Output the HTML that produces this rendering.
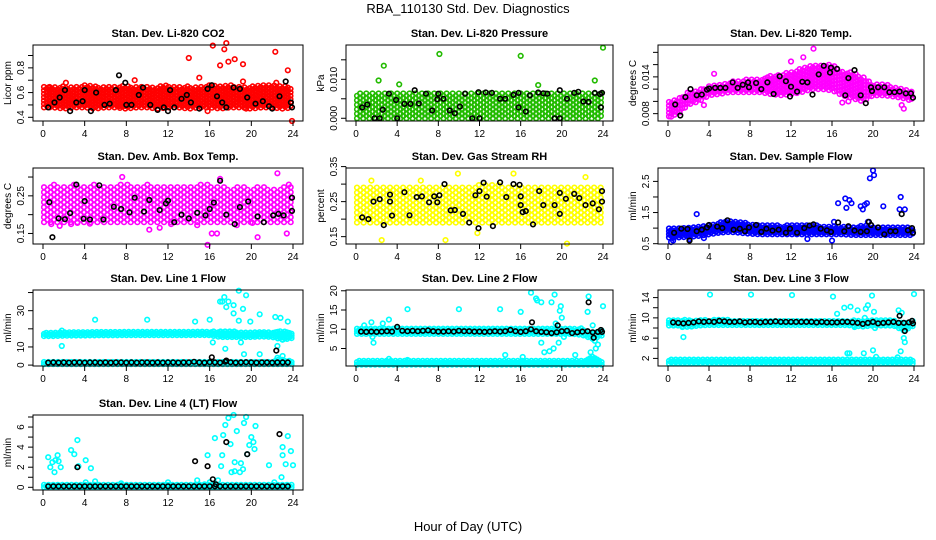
<!DOCTYPE html>
<html><head><meta charset="utf-8"><style>
html,body{margin:0;padding:0;background:#fff}
svg{display:block;font-family:"Liberation Sans",sans-serif}
</style></head><body>
<svg id="chart" width="936" height="540" xmlns="http://www.w3.org/2000/svg">
<text x="468" y="13" text-anchor="middle" font-size="13">RBA_110130  Std. Dev. Diagnostics</text>
<text x="468" y="531" text-anchor="middle" font-size="13">Hour of Day (UTC)</text>
</svg>
<script>
const hoursGrid=[0,1,2,3,4,5,6,7,8,9,10,11,12,13,14,15,16,17,18,19,20,21,22,23,24];
const halfHours=[0.5,1,1.5,2,2.5,3,3.5,4,4.5,5,5.5,6,6.5,7,7.5,8,8.5,9,9.5,10,10.5,11,11.5,12,12.5,13,13.5,14,14.5,15,15.5,16,16.5,17,17.5,18,18.5,19,19.5,20,20.5,21,21.5,22,22.5,23,23.5];
const xTicks=[0,4,8,12,16,20,24];

// P1 CO2
const co2Lo=[0.48,0.48,0.47,0.48,0.48,0.47,0.48,0.48,0.47,0.48,0.48,0.47,0.48,0.48,0.47,0.48,0.48,0.47,0.48,0.48,0.47,0.48,0.48,0.47,0.48];
const co2Hi=[0.66,0.65,0.65,0.65,0.66,0.65,0.65,0.65,0.66,0.65,0.65,0.65,0.66,0.65,0.65,0.65,0.66,0.65,0.66,0.65,0.65,0.66,0.66,0.66,0.65];
const co2OutX=[0.5,0.8,2.2,4.3,5.8,7.3,8,8.8,12.8,14,15,15.8,16.3,17,17.4,17.6,17.8,18.4,19,19.2,19.5,19.2,22.3,22.4,23,23.5,23.9];
const co2OutY=[0.64,0.61,0.68,0.64,0.5,0.49,0.49,0.7,0.52,0.88,0.72,0.45,0.98,0.82,0.95,1.0,0.85,0.87,0.55,0.69,0.47,0.83,0.93,0.68,0.5,0.78,0.37];
const co2BlkX=[0.5,1.1,1.6,2.1,2.6,3.2,3.8,4,4.6,5.1,5.9,6.4,7,7.3,7.9,8,8.5,9.2,9.6,10.3,11,11.6,12,12.2,12.6,13.3,13.8,14.2,15,15.8,16.2,16.7,17.2,17.6,18.3,18.9,19.6,20.4,21.1,21.7,22,22.7,23.3,23.8,23.9];
const co2BlkY=[0.48,0.52,0.56,0.62,0.45,0.52,0.53,0.62,0.45,0.6,0.5,0.51,0.62,0.74,0.68,0.5,0.5,0.58,0.64,0.5,0.46,0.48,0.45,0.62,0.48,0.55,0.58,0.52,0.47,0.63,0.66,0.57,0.52,0.48,0.64,0.63,0.56,0.51,0.53,0.49,0.47,0.57,0.69,0.52,0.48];

// P2 Pressure
const presLo=[0,0,0,0,0,0,0,0,0,0,0,0,0,0,0,0,0,0,0,0,0,0,0,0,0];
const presHi=[0.0068,0.0068,0.0067,0.0068,0.0068,0.0069,0.0068,0.0068,0.0068,0.0068,0.0068,0.0068,0.0069,0.0068,0.0068,0.0068,0.0069,0.0068,0.0068,0.0068,0.0068,0.0068,0.0068,0.0068,0.0068];
const presOutX=[2.2,2.7,4.2,8.1,16,17.7,23.2,24];
const presOutY=[0.0097,0.0135,0.0087,0.0165,0.016,0.0085,0.0097,0.0181];
const presBlkX=[0.6,1.1,1.8,2.3,2.6,3.2,3.9,4,4.7,5.3,5.7,6.1,6.8,7.4,7.9,8,8.5,9.1,9.6,10.1,10.6,11.3,11.9,12,12.6,13.2,14,14.5,15.3,15.8,15.8,16.5,16.9,17.7,18.2,18.6,19.3,19.8,19.8,20.5,21.2,21.6,22.1,22.6,23.2,23.7,23.8,23.9];
const presBlkY=[0.0028,0.0035,0,0,0.0022,0.0063,0.0047,0,0.0037,0.0037,0.0072,0.0038,0.0063,0.002,0.0049,0.0063,0.005,0.002,0.0013,0.003,0.0063,0,0.0067,0,0.0066,0.0065,0.005,0.005,0.006,0.0065,0.0028,0.0017,0.0059,0.0066,0.0064,0.0063,0,0.0072,0,0.005,0.0065,0.0068,0.0043,0.0042,0.0065,0.0062,0.0028,0.0065];

// P3 Li-820 Temp
const tempLo=[0.0075,0.008,0.0095,0.01,0.011,0.0112,0.0115,0.0115,0.0115,0.0115,0.0112,0.011,0.0112,0.0115,0.012,0.012,0.0118,0.011,0.0105,0.01,0.011,0.011,0.0108,0.0105,0.01];
const tempHi=[0.01,0.0105,0.0115,0.012,0.0125,0.0128,0.0132,0.0135,0.0138,0.0138,0.0142,0.0145,0.0148,0.0155,0.0158,0.016,0.016,0.015,0.0148,0.014,0.013,0.0128,0.0125,0.0122,0.0115];
const tempOutX=[4.5,14.2,13.2,12,17,17.6,22.8,23,0.3,3.5];
const tempOutY=[0.0145,0.0186,0.0172,0.0165,0.0098,0.01,0.0094,0.0088,0.0075,0.0094];
const tempBlkX=[0.7,1.2,1.7,2.2,2.8,3.3,3.8,4,4.6,5.1,5.6,6.3,6.8,7.3,7.8,7.9,8.6,9.1,9.7,10.3,10.9,11.5,11.9,12,12.6,13.1,13.6,14.1,14.7,15.2,15.8,15.9,16.5,17.3,17.6,18.2,18.8,19.3,19.8,19.9,20.5,21.1,21.6,22.1,22.6,23.2,23.7,23.9];
const tempBlkY=[0.0095,0.0077,0.0107,0.012,0.011,0.0111,0.0119,0.0121,0.0122,0.0122,0.0122,0.0131,0.0122,0.0127,0.0131,0.0123,0.013,0.012,0.0131,0.0112,0.0141,0.0133,0.0108,0.0124,0.0116,0.0132,0.0131,0.0111,0.0144,0.0158,0.0147,0.0155,0.0153,0.011,0.0138,0.0151,0.011,0.0097,0.0123,0.0117,0.0123,0.0123,0.0115,0.0115,0.0116,0.0113,0.0113,0.0106];

// P4 Amb box temp
const ambLo=[0.18,0.18,0.18,0.18,0.18,0.18,0.18,0.18,0.18,0.18,0.18,0.18,0.18,0.18,0.18,0.18,0.18,0.18,0.18,0.18,0.18,0.18,0.18,0.18,0.18];
const ambHi=[0.275,0.28,0.275,0.28,0.275,0.28,0.275,0.28,0.28,0.275,0.28,0.275,0.275,0.28,0.275,0.28,0.28,0.275,0.27,0.275,0.27,0.275,0.27,0.275,0.275];
const ambOutX=[0.8,1.6,2.7,3.3,4.5,7.6,10.2,11.2,12.3,14.8,15.8,16.2,16.7,17,18.6,20.1,20.6,22.5,23.4,23.6];
const ambOutY=[0.175,0.17,0.175,0.178,0.176,0.3,0.16,0.165,0.175,0.172,0.12,0.15,0.15,0.295,0.172,0.178,0.14,0.31,0.15,0.28];
const ambBlkX=[0.6,0.9,1.5,2.1,2.6,3.2,3.9,4,4.5,5.4,5.8,6.8,7.5,8.3,8.8,9.7,10.2,11.2,11.8,12,12.6,13.3,14,14.8,15.6,16,16.4,17,17.6,18.4,18.9,19.7,20.6,21.2,22.1,22.6,23.1,23.9,23.9];
const ambBlkY=[0.233,0.14,0.19,0.188,0.204,0.28,0.189,0.236,0.187,0.278,0.187,0.221,0.215,0.206,0.245,0.208,0.239,0.212,0.23,0.237,0.18,0.2,0.19,0.205,0.198,0.215,0.232,0.29,0.2,0.175,0.22,0.235,0.195,0.18,0.198,0.202,0.198,0.21,0.245];

// P5 Gas stream RH
const rhLo=[0.19,0.19,0.19,0.19,0.19,0.19,0.19,0.19,0.19,0.19,0.19,0.19,0.19,0.19,0.19,0.19,0.19,0.19,0.19,0.19,0.19,0.19,0.19,0.19,0.19];
const rhHi=[0.29,0.29,0.29,0.29,0.29,0.29,0.29,0.29,0.29,0.29,0.29,0.29,0.3,0.3,0.3,0.29,0.29,0.29,0.29,0.29,0.29,0.29,0.29,0.29,0.29];
const rhOutX=[2.5,8.7,11.8,9.9,15.3,20.5,22.3,1.5,6.3];
const rhOutY=[0.14,0.14,0.16,0.33,0.33,0.13,0.32,0.31,0.31];
const rhBlkX=[0.6,1.2,1.7,2.3,2.7,3.3,3.3,3.5,4.7,5.2,5.9,6.4,7.1,7.6,7.9,8.1,8.6,9.2,9.6,10.4,11,11.6,11.9,12,12.4,12.7,13.3,14,14.6,15.3,15.9,16,16,16.2,16.5,17.2,17.8,18.2,19.3,19.8,19.8,20.4,21.2,21.7,22.3,23,23.6,23.9,23.9];
const rhBlkY=[0.205,0.2,0.25,0.257,0.183,0.25,0.27,0.21,0.277,0.211,0.263,0.265,0.248,0.265,0.248,0.268,0.3,0.225,0.226,0.215,0.19,0.268,0.174,0.28,0.304,0.264,0.18,0.305,0.263,0.3,0.298,0.265,0.24,0.22,0.223,0.185,0.28,0.24,0.24,0.275,0.215,0.258,0.272,0.26,0.24,0.245,0.228,0.25,0.28];

// P6 Sample flow
const sfLo=[0.7,0.7,0.72,0.75,0.8,0.85,0.88,0.85,0.82,0.8,0.8,0.8,0.8,0.8,0.8,0.8,0.8,0.8,0.78,0.78,0.78,0.78,0.78,0.78,0.78];
const sfHi=[1.0,1.0,1.02,1.05,1.1,1.2,1.25,1.2,1.15,1.1,1.1,1.08,1.1,1.1,1.1,1.08,1.08,1.05,1.05,1.08,1.05,1.05,1.05,1.05,1.0];
const sfOutX=[0.3,0.5,2.1,2.8,3.5,13.6,16,16.2,16.6,17.3,17.4,17.7,17.9,18.8,19,19.2,19.4,19.7,20,20.1,21,22.6,22.7,23.1,19.5];
const sfOutY=[0.55,0.6,0.65,1.45,0.68,0.65,0.6,1.2,1.8,1.95,1.65,1.9,1.8,1.7,1.6,1.75,1.8,2.6,2.85,2.7,1.7,1.6,2.0,1.6,1.2];
const sfBlkX=[0.6,1.3,1.9,2.1,2.8,3.3,3.8,4,4.8,5.3,5.8,6.4,7,7.5,7.9,8.6,9.1,9.6,10.2,10.8,11.5,11.9,12.6,13.3,13.8,14.2,14.9,15.5,15.9,16.6,17.2,17.6,18.2,18.8,19.4,19.6,19.8,20.5,21.1,21.7,22.2,22.8,23.4,23.8,23.9];
const sfBlkY=[0.85,0.98,0.97,0.6,0.9,0.95,1.02,1.1,1.05,1.0,1.25,0.95,0.98,0.9,1.02,1.1,0.88,0.98,0.92,0.95,0.85,0.98,0.85,1.0,1.08,1.12,0.98,0.93,0.88,1.18,0.9,1.06,0.92,0.88,0.9,1.2,1.1,1.02,0.8,0.9,0.9,1.45,0.93,1.0,0.85];

// P7 Line 1
const l1LoA=[16,16,16.2,16.3,16.3,16.4,16.4,16.4,16.5,16.5,16.5,16.5,16.5,16.5,16.5,16.6,16.5,15.5,15.5,15.5,15.5,15.8,15.5,14,15];
const l1HiA=[18,18,18.2,18.3,18.3,18.4,18.4,18.4,18.5,18.5,18.5,18.5,18.6,18.6,18.6,18.6,18.8,18.8,18.6,18.4,18.4,18.4,18.4,18.8,17];
const l1LoB=[0.5,0.5,0.5,0.5,0.5,0.5,0.5,0.5,0.5,0.5,0.5,0.5,0.5,0.5,0.5,0.5,0.5,0.5,0.5,0.5,0.5,0.5,0.5,0.5,0.5];
const l1HiB=[2,2,2,2,2,2,2,2,2,2,2,2,2,2,2,2,2,2,2,2,2,2,2,3,2];
const l1OutX=[1.8,1.8,5,10,14.6,18.8,16,16.3,17,17.2,17.4,17.6,17.8,18.3,18.3,18.8,19,19.2,19.5,19.9,20.8,22.3,22.4,22.5,22.8,23,23.5,19.3,20.8,17.5,22.6,23,22.5];
const l1OutY=[19,10.5,25,25,24,24.5,25,12.5,35,35,37.5,32,35,33,28.5,41,12.5,31,38.5,24,28,26.5,18,10.5,26,14,24,6,6,9,3,5,4];
const l1Blk=[1.4,1.5,1.4,1.5,1.4,1.5,1.5,1.4,1.5,1.5,1.4,1.5,1.4,1.5,1.5,1.4,1.5,1.4,1.5,1.5,1.4,1.5,1.4,1.5,1.5,1.4,1.5,1.5,1.8,1.5,1.4,1.6,1.5,1.4,1.8,1.6,1.4,1.5,1.6,1.5,1.4,1.5,1.5,1.4,1.5,1.5,1.5];
const l1ExtraX=[16.2,17.6,22.4];
const l1ExtraY=[4.3,2.5,8];

// P8 Line 2
const l2LoA=[8.8,8.8,8.8,8.8,8.8,8.8,8.8,8.8,8.8,8.8,8.8,8.8,8.8,8.8,8.8,8.8,8.8,8.8,8.8,8.8,8.8,8.8,8.5,7.5,8.5];
const l2HiA=[10.2,10.2,10.2,10.2,10.2,10.2,10.2,10.2,10.2,10.2,10.2,10.2,10.2,10.2,10.2,10.2,10.2,10.2,10.2,10.2,10.2,10.2,10.2,9,10];
const l2LoB=[0.8,0.8,0.8,0.8,0.8,0.8,0.8,0.8,0.8,0.8,0.8,0.8,0.8,0.8,0.8,0.8,0.8,0.8,0.8,0.8,0.8,0.8,0.8,0.8,0.8];
const l2HiB=[1.8,1.8,1.8,1.8,1.8,1.8,1.8,1.8,1.8,1.8,1.8,1.8,1.8,1.8,1.8,1.8,1.8,1.8,1.8,1.8,1.8,1.8,1.8,3,1.8];
const l2OutX=[0.8,1.5,1.6,1.7,2.6,3.2,3.2,5,5,10,14,16,16.2,14.5,17,17.5,17.6,18,18,18.3,18.8,19,19.2,19.3,19.4,19.7,19.8,19.9,20,20.2,21.3,22.5,22.6,22.8,23,23.2,23.3,23.5,24];
const l2OutY=[11,11.8,8,6.5,11.5,12.5,2.3,15.2,2,15.2,15.2,14.5,2.8,3.3,19.5,18,17.5,17,6.5,4,4.3,17,5,19,11.5,6.5,14.8,16,13,8,3.3,14.5,18.5,4,11,7,5,6,16];
const l2Blk=[9.4,9.3,9.4,9.3,9.4,9.5,9.4,10.6,9.6,9.5,9.6,9.5,9.6,9.7,9.5,9.4,9.4,9.5,9.4,9.6,9.5,9.5,9.4,9.4,9.3,9.4,9.5,9.4,9.5,9.8,9.5,9.3,9.5,10,9.5,9.3,9.2,9,9.2,9.5,9.6,9,9.2,9.4,9.5,9.2,9.3];
const l2ExtraX=[17.1,19.6,22.6,23.1,23.8,23.9];
const l2ExtraY=[11.8,11,17,7.8,9.8,9.3];

// P9 Line 3
const l3LoA=[8.5,8.5,8.2,8.5,8.6,8.6,8.6,8.6,8.6,8.6,8.6,8.6,8.6,8.6,8.6,8.6,8.6,8.6,8.5,8.3,8.5,8.5,8.5,7.5,8.5];
const l3HiA=[9.6,9.6,9.6,9.6,9.6,9.7,9.6,9.6,9.6,9.6,9.6,9.6,9.6,9.6,9.6,9.6,9.6,9.6,9.5,9.5,9.6,9.6,9.6,9,9.6];
const l3LoB=[1,1,1,1,1,1,1,1,1,1,1,1,1,1,1,1,1,1,1,1,1,1,1,1,1];
const l3HiB=[1.8,1.8,1.9,1.8,1.8,1.8,1.8,1.8,1.8,1.8,1.8,1.8,1.8,1.8,1.8,1.8,1.8,1.8,1.8,1.8,1.8,1.8,1.8,1.8,1.8];
const l3OutX=[1.5,1.4,4.1,8.1,12.1,16.1,16.5,17.2,17.5,17.7,17.8,18.5,19.1,19.3,19.5,19.9,20,20.1,20.2,20.3,22.4,22.5,22.7,22.8,23,23.1,24,19.2,18.2];
const l3OutY=[6.2,8.2,14.6,14.6,14.5,14.2,10.8,12,3,3,12.2,11.5,3,11.8,12.5,14.4,3.6,11.2,8,2.3,2.2,11.5,3.4,11,6,5.2,14.7,10,8.2];
const l3Blk=[9.1,9,8.9,9,9.1,9.3,9.2,9.3,9.2,9.4,9.3,9.2,9.2,9.3,9.1,9.2,9.2,9.1,9.2,9.2,9.3,9.2,9.2,9.2,9.2,9.2,9.2,9.2,9.1,9.2,9.1,9.1,9.1,9.2,9.2,9.1,9,8.8,9,9.2,8.9,9,9.1,9.2,9,9,9.1];
const l3ExtraX=[22.6,23.1,23.8,23.9];
const l3ExtraY=[10.4,7.4,9.4,8.9];

// P10 Line 4
const l4Lo=[0,0,0,0,0,0,0,0,0,0,0,0,0,0,0,0,0,0,0,0,0,0,0,0,0];
const l4Hi=[0.3,0.3,0.3,0.3,0.3,0.3,0.3,0.3,0.3,0.3,0.3,0.3,0.3,0.3,0.3,0.3,0.3,0.3,0.3,0.3,0.3,0.3,0.3,0.3,0.3];
const l4OutX=[0.5,0.7,0.9,1.1,1.2,1.4,1.5,1.7,2.7,3,3.3,4.1,4.6,3.4,4.1,5,7.5,12,14.8,15.5,15.8,16,16.5,16.8,17.1,17.2,17.3,17.5,17.8,18,18.1,18.3,18.4,18.4,18.6,18.9,19,19.2,19.3,19.5,19.6,19.8,20,20.2,20.3,20.4,21.7,22.2,22.9,23,23,23.3,23.5,23.8,24];
const l4OutY=[3,2,2.5,1.5,2.7,3.2,2.6,2,3.7,3.3,4.7,2.7,1.9,2.1,0.5,0.6,0.4,0.5,0.7,0.3,3.2,0.5,4.9,0.7,2.1,3.2,5.2,6.2,6.9,4.3,1.5,7.2,1.6,2.5,5.6,1.5,2.4,1.8,6.4,7,3.3,4.2,5,4.5,3.8,6.1,2.2,0.5,1,3.2,4,2.3,5.1,3.6,2.2];
const l4Blk=[0.1,0.1,0.1,0.1,0.1,0.1,0.1,0.1,0.1,0.1,0.1,0.1,0.1,0.1,0.1,0.1,0.1,0.1,0.1,0.1,0.1,0.1,0.1,0.1,0.1,0.1,0.1,0.1,0.1,0.1,0.1,0.1,0.1,0.1,0.1,0.1,0.1,0.1,0.1,0.1,0.1,0.1,0.1,0.1,0.1,0.1,0.1];
const l4ExtraX=[3.3,14.6,15.8,16.3,17.6,19.6,22.7,16.6];
const l4ExtraY=[2,2.6,2.1,0.8,4.5,3.3,5.3,0.3];

const svg=document.getElementById('chart');
const NS='http://www.w3.org/2000/svg';
const colX=[[43,293],[356,603],[668,914]];
const rowY=[[45,121],[168,244],[290,366],[415,490]];

function mk(tag,attrs,parent){const e=document.createElementNS(NS,tag);for(const k in attrs)e.setAttribute(k,attrs[k]);(parent||svg).appendChild(e);return e;}

function panel(opt){
  const [x0,x24]=colX[opt.col];const [top,bot]=rowY[opt.row];
  const left=x0-10,right=x24+10;
  const g=mk('g',{});
  
  
  const sx=h=>x0+(x24-x0)*h/24;
  const sy=v=>bot-(v-opt.dom[0])/(opt.dom[1]-opt.dom[0])*(bot-top);
  const t=mk('text',{x:(left+right)/2,y:top-8,'text-anchor':'middle','font-size':11,'font-weight':'bold'},g);
  t.textContent=opt.title;
  
  
  const pts=mk('g',{fill:'none','stroke-width':1.6},g);
  function dot(h,v,c){const el=mk('circle',{cx:sx(h).toFixed(1),cy:sy(v).toFixed(1),r:2.3,stroke:c},pts);return el;}
  (opt.bands||[]).forEach(b=>{
    const bg=mk('g',{},pts);
    
    
    const dx=b.dx||0.22;let k=0;
    for(let h=0.1;h<=24.0;h+=dx,k++){
      const i=Math.min(23,Math.floor(h)),f=h-i;
      const lo=b.lo[i]+(b.lo[i+1]-b.lo[i])*f, hi=b.hi[i]+(b.hi[i+1]-b.hi[i])*f;
      const pl=sy(lo),ph=sy(hi);
      const off=(k%2)?b.step/2:0;
      for(let p=pl-off;p>=ph-0.1;p-=b.step){
        mk('circle',{cx:sx(h).toFixed(1),cy:p.toFixed(1),r:2.3,stroke:opt.color},bg);
      }
    }
  });
  opt.outX.forEach((h,i)=>{const d=dot(h,opt.outY[i],opt.color);
    
    });
  opt.blkX.forEach((h,i)=>{const d=dot(h,opt.blkY[i],'#000');
    
    });
  const box=mk('rect',{x:left,y:top,width:right-left,height:bot-top,fill:'none',stroke:'#000','stroke-width':1},g);
  
  
  mk('line',{x1:sx(0),x2:sx(24),y1:bot,y2:bot,stroke:'#000'},g);
  xTicks.forEach(h=>{
    mk('line',{x1:sx(h),x2:sx(h),y1:bot,y2:bot+5,stroke:'#000'},g);
    const tl=mk('text',{x:sx(h),y:bot+16,'text-anchor':'middle','font-size':10},g);
    tl.textContent=h;
    
    
  });
  opt.ticks.forEach(v=>{
    const y=sy(v);
    mk('line',{x1:left,x2:left-5,y1:y,y2:y,stroke:'#000'},g);
  });
  mk('line',{x1:left,x2:left,y1:sy(opt.ticks[0]),y2:sy(opt.ticks[opt.ticks.length-1]),stroke:'#000'},g);
  opt.labels.forEach(v=>{
    const y=sy(v);
    const tl=mk('text',{x:0,y:0,'text-anchor':'middle','font-size':10,transform:`translate(${left-9},${y}) rotate(-90)`},g);
    tl.textContent=opt.fmt?opt.fmt(v):v;
    
    
  });
  const yl=mk('text',{x:0,y:0,'text-anchor':'middle','font-size':10,transform:`translate(${left-22},${(top+bot)/2}) rotate(-90)`},g);
  yl.textContent=opt.ylab;
  
  
}

panel({name:'panel-co2',col:0,row:0,title:'Stan. Dev. Li-820 CO2',color:'#ff0000',dom:[0.37,0.985],ticks:[0.4,0.5,0.6,0.7,0.8,0.9],labels:[0.4,0.6,0.8],fmt:v=>v.toFixed(1),ylab:'Licor ppm',bands:[{lo:co2Lo,hi:co2Hi,step:3.4,dx:0.26}],outX:co2OutX,outY:co2OutY,blkX:co2BlkX,blkY:co2BlkY});
panel({name:'panel-pressure',col:1,row:0,title:'Stan. Dev. Li-820 Pressure',color:'#22bb00',dom:[-0.0007,0.0188],ticks:[0,0.005,0.01,0.015],labels:[0,0.01],fmt:v=>v.toFixed(3),ylab:'kPa',bands:[{lo:presLo,hi:presHi,step:4.5,dx:0.3}],outX:presOutX,outY:presOutY,blkX:presBlkX,blkY:presBlkY});
panel({name:'panel-temp',col:2,row:0,title:'Stan. Dev. Li-820 Temp.',color:'#ff00ff',dom:[0.0068,0.0192],ticks:[0.008,0.01,0.012,0.014,0.016,0.018],labels:[0.008,0.014],fmt:v=>v.toFixed(3),ylab:'degrees C',bands:[{lo:tempLo,hi:tempHi,step:3.6,dx:0.26}],outX:tempOutX,outY:tempOutY,blkX:tempBlkX,blkY:tempBlkY});
panel({name:'panel-amb-temp',col:0,row:1,title:'Stan. Dev. Amb. Box Temp.',color:'#ff00ff',dom:[0.122,0.324],ticks:[0.15,0.2,0.25,0.3],labels:[0.15,0.25],fmt:v=>v.toFixed(2),ylab:'degrees C',bands:[{lo:ambLo,hi:ambHi,step:5,dx:0.32}],outX:ambOutX,outY:ambOutY,blkX:ambBlkX,blkY:ambBlkY});
panel({name:'panel-rh',col:1,row:1,title:'Stan. Dev. Gas Stream RH',color:'#ffff00',dom:[0.129,0.346],ticks:[0.15,0.2,0.25,0.3,0.35],labels:[0.15,0.25,0.35],fmt:v=>v.toFixed(2),ylab:'percent',bands:[{lo:rhLo,hi:rhHi,step:5,dx:0.32}],outX:rhOutX,outY:rhOutY,blkX:rhBlkX,blkY:rhBlkY});
panel({name:'panel-sample-flow',col:2,row:1,title:'Stan. Dev. Sample Flow',color:'#0000ff',dom:[0.49,2.93],ticks:[0.5,1,1.5,2,2.5],labels:[0.5,1.5,2.5],fmt:v=>v.toFixed(1),ylab:'ml/min',bands:[{lo:sfLo,hi:sfHi,step:3,dx:0.24}],outX:sfOutX,outY:sfOutY,blkX:sfBlkX,blkY:sfBlkY});
panel({name:'panel-line1',col:0,row:2,title:'Stan. Dev. Line 1 Flow',color:'#00ffff',dom:[-0.5,41.4],ticks:[0,10,20,30,40],labels:[0,10,30],ylab:'ml/min',bands:[{lo:l1LoA,hi:l1HiA,step:2.2},{lo:l1LoB,hi:l1HiB,step:2.2}],outX:l1OutX,outY:l1OutY,blkX:halfHours.concat(l1ExtraX),blkY:l1Blk.concat(l1ExtraY)});
panel({name:'panel-line2',col:1,row:2,title:'Stan. Dev. Line 2 Flow',color:'#00ffff',dom:[0.45,20.2],ticks:[5,10,15,20],labels:[5,10,15,20],ylab:'ml/min',bands:[{lo:l2LoA,hi:l2HiA,step:2.6},{lo:l2LoB,hi:l2HiB,step:2.6}],outX:l2OutX,outY:l2OutY,blkX:halfHours.concat(l2ExtraX),blkY:l2Blk.concat(l2ExtraY)});
panel({name:'panel-line3',col:2,row:2,title:'Stan. Dev. Line 3 Flow',color:'#00ffff',dom:[0.5,15.5],ticks:[2,4,6,8,10,12,14],labels:[2,6,10,14],ylab:'ml/min',bands:[{lo:l3LoA,hi:l3HiA,step:2.6},{lo:l3LoB,hi:l3HiB,step:2.6}],outX:l3OutX,outY:l3OutY,blkX:halfHours.concat(l3ExtraX),blkY:l3Blk.concat(l3ExtraY)});
panel({name:'panel-line4',col:0,row:3,title:'Stan. Dev. Line 4 (LT) Flow',color:'#00ffff',dom:[-0.27,7.2],ticks:[0,1,2,3,4,5,6,7],labels:[0,2,4,6],ylab:'ml/min',bands:[{lo:l4Lo,hi:l4Hi,step:2.5}],outX:l4OutX,outY:l4OutY,blkX:halfHours.concat(l4ExtraX),blkY:l4Blk.concat(l4ExtraY)});
</script>
</body></html>
